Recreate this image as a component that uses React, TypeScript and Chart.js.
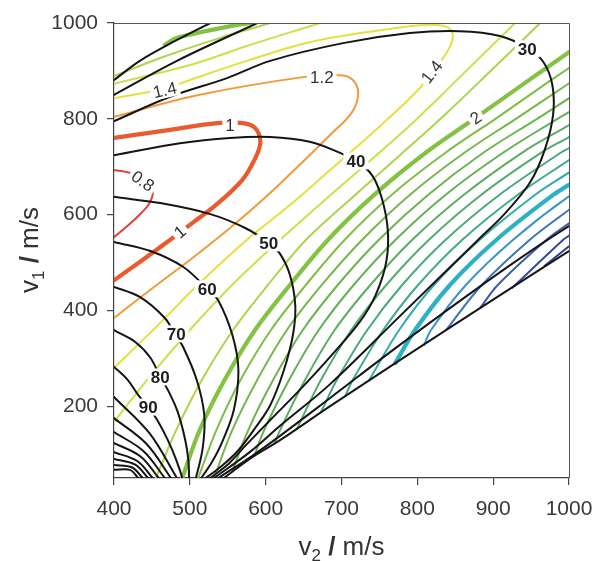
import { useEffect, useRef } from "react";
import { Chart, registerables } from "chart.js";

Chart.register(...registerables);

type Pt = [number, number]; // [v2, v1] in m/s

const v2Ticks = [400, 500, 600, 700, 800, 900, 1000];
const v1Ticks = [200, 400, 600, 800, 1000];

// ---- black contours (angle, degrees) ----
const angle10Top: Pt[] = [[382, 862], [400, 881], [434, 921], [480, 962], [527, 1000], [553, 1021]];
const angle10Bottom: Pt[] = [[1028, 553], [1000, 524], [922, 445], [777, 296], [685, 200], [619, 129], [579, 90], [545, 50], [533, 37]];
const angle20Top: Pt[] = [[382, 835], [400, 850], [483, 921], [589, 1000], [612, 1017]];
const angle20Bottom: Pt[] = [[1028, 597], [1000, 576], [913, 484], [777, 328], [685, 217], [619, 138], [582, 96], [538, 50], [527, 37]];
const angle30: Pt[] = [[382, 783], [400, 795], [474, 846], [549, 885], [606, 921], [702, 958], [790, 979], [856, 983], [909, 973], [945, 948], [966, 919], [978, 871], [979, 808], [968, 735], [949, 668], [916, 603], [880, 547], [777, 388], [685, 246], [619, 159], [579, 104], [532, 50], [520, 37]];
const angle40: Pt[] = [[382, 720], [400, 724], [487, 749], [553, 760], [606, 762], [658, 752], [695, 731], [719, 712], [740, 683], [753, 635], [761, 568], [759, 501], [745, 432], [724, 376], [685, 303], [645, 234], [606, 171], [573, 117], [552, 81], [527, 50], [513, 33]];
const angle50: Pt[] = [[382, 641], [400, 637], [461, 624], [527, 601], [573, 572], [604, 541], [619, 518], [632, 474], [639, 411], [636, 349], [624, 275], [606, 202], [586, 154], [564, 108], [542, 75], [521, 50], [508, 37]];
const angle60: Pt[] = [[382, 551], [400, 543], [448, 524], [491, 491], [523, 445], [537, 422], [556, 349], [564, 276], [558, 192], [542, 123], [529, 83], [515, 50], [505, 29]];
const angle70: Pt[] = [[382, 459], [400, 449], [434, 428], [467, 384], [480, 351], [491, 324], [509, 255], [519, 182], [517, 113], [508, 50], [504, 29]];
const angle80: Pt[] = [[382, 380], [400, 359], [428, 334], [448, 301], [461, 261], [471, 234], [484, 188], [494, 129], [498, 88], [499, 50], [499, 29]];
const angle90: Pt[] = [[382, 307], [400, 282], [418, 255], [432, 223], [445, 198], [457, 171], [471, 129], [482, 88], [490, 50], [492, 29]];
const angle100: Pt[] = [[400, 219], [447, 143], [483, 50]];
const angle110: Pt[] = [[400, 175], [443, 121], [475, 50]];
const angle120: Pt[] = [[400, 146], [439, 106], [467, 50]];
const angle130: Pt[] = [[400, 123], [435, 95], [459, 50]];
const angle140: Pt[] = [[400, 104], [431, 85], [451, 50]];
const angle150: Pt[] = [[400, 90], [428, 78], [445, 50]];
const angle160: Pt[] = [[400, 77], [424, 72], [438, 50]];
const angle170: Pt[] = [[400, 67], [421, 67], [432, 50]];

// ---- coloured contours (ratio) ----
const ratio08: Pt[] = [[382, 695], [400, 693], [421, 687], [442, 670], [451, 647], [446, 622], [432, 597], [416, 574], [400, 553], [382, 532]];
const ratio10: Pt[] = [[382, 756], [400, 760], [474, 777], [536, 791], [570, 791], [586, 781], [593, 752], [587, 720], [569, 672], [533, 618], [507, 587], [467, 539], [434, 501], [400, 463], [382, 443]];
const ratio12: Pt[] = [[382, 795], [400, 804], [513, 850], [649, 887], [699, 891], [715, 881], [722, 854], [714, 814], [685, 766], [645, 704], [599, 635], [553, 572], [500, 505], [448, 443], [400, 384], [382, 361]];
const ratio14: Pt[] = [[382, 837], [400, 843], [465, 862], [500, 881], [579, 923], [658, 960], [751, 985], [810, 996], [839, 992], [847, 973], [839, 939], [819, 898], [801, 860], [751, 785], [685, 693], [632, 620], [575, 547], [513, 457], [454, 363], [400, 280], [382, 253]];
const ratio16Top: Pt[] = [[382, 864], [400, 873], [504, 914], [579, 954], [672, 1000], [691, 1010]];
const ratio16: Pt[] = [[382, 129], [400, 167], [447, 261], [500, 359], [557, 455], [619, 547], [698, 658], [784, 777], [856, 887], [929, 1000], [949, 1031]];
const ratio18Top: Pt[] = [[382, 879], [400, 889], [461, 927], [540, 969], [606, 1000], [625, 1010]];
const ratio18: Pt[] = [[447, 25], [455, 50], [482, 150], [516, 255], [557, 359], [603, 453], [653, 547], [718, 641], [777, 724], [836, 808], [898, 902], [962, 1000], [982, 1031]];
const ratio20Top: Pt[] = [[467, 954], [483, 969], [549, 992], [579, 1000], [599, 1006]];
const ratio20: Pt[] = [[484, 25], [490, 50], [513, 150], [546, 255], [586, 359], [632, 453], [682, 547], [743, 641], [811, 729], [877, 802], [942, 875], [1000, 939], [1028, 971]];
const ratio21: Pt[] = [[505, 25], [511, 50], [535, 150], [567, 255], [607, 359], [653, 453], [704, 547], [766, 641], [837, 729], [905, 802], [971, 875], [1000, 906], [1032, 939]];
const ratio22: Pt[] = [[527, 25], [532, 50], [556, 150], [589, 255], [628, 359], [674, 453], [727, 547], [790, 641], [862, 729], [932, 802], [1001, 875], [1063, 939]];
const ratio23: Pt[] = [[556, 63], [577, 150], [610, 255], [649, 359], [695, 453], [749, 547], [814, 641], [887, 729], [960, 802], [1000, 843], [1031, 875]];
const ratio24: Pt[] = [[585, 96], [598, 150], [631, 255], [670, 359], [716, 453], [771, 547], [837, 641], [913, 729], [987, 802], [1000, 814], [1060, 875]];
const ratio25: Pt[] = [[612, 123], [619, 150], [652, 255], [691, 359], [738, 453], [793, 547], [861, 641], [938, 729], [1000, 787], [1015, 802]];
const ratio26: Pt[] = [[641, 152], [673, 255], [713, 359], [759, 453], [815, 547], [884, 641], [963, 729], [1000, 762], [1042, 802]];
const ratio27: Pt[] = [[673, 188], [694, 255], [734, 359], [780, 453], [837, 547], [908, 641], [989, 729], [1000, 739], [1069, 802]];
const ratio28: Pt[] = [[705, 221], [715, 255], [755, 359], [801, 453], [859, 547], [932, 641], [1000, 714], [1014, 729]];
const ratio29: Pt[] = [[736, 253], [776, 359], [822, 453], [882, 547], [955, 641], [1000, 688], [1039, 729]];
const ratio30: Pt[] = [[771, 290], [797, 359], [843, 453], [904, 547], [979, 641], [1000, 662], [1065, 729]];
const ratio31: Pt[] = [[809, 328], [818, 359], [864, 453], [926, 547], [1000, 638], [1090, 729]];
const ratio32: Pt[] = [[839, 361], [885, 453], [948, 547], [1000, 610], [1026, 641]];
const ratio33: Pt[] = [[883, 405], [906, 453], [970, 547], [1000, 582], [1050, 641]];
const ratio34: Pt[] = [[925, 447], [992, 547], [1000, 556], [1073, 641]];
const ratio35: Pt[] = [[968, 493], [1000, 534], [1028, 570]];

// inline contour labels: [text, v2, v1]
const angleLabels: [string, number, number][] = [
  ["30", 945, 946], ["40", 719, 712], ["50", 604, 541], ["60", 523, 445],
  ["70", 482, 351], ["80", 461, 261], ["90", 445, 198],
];
const ratioLabels: [string, number, number][] = [
  ["1.4", 467, 860], ["1.2", 674, 887], ["1", 553, 787], ["0.8", 438, 670],
  ["1", 487, 564], ["1.4", 819, 898], ["2", 877, 802],
];
const ratioLabelTilt = [-13, 0, 0, 35, -40, -52, -36];

const angleCurves: Pt[][] = [
  angle10Top, angle10Bottom, angle20Top, angle20Bottom, angle30, angle40, angle50,
  angle60, angle70, angle80, angle90, angle100, angle110, angle120, angle130,
  angle140, angle150, angle160, angle170,
];

const ratioCurves: { level: number; pts: Pt[] }[] = [
  { level: 0.8, pts: ratio08 }, { level: 1.0, pts: ratio10 }, { level: 1.2, pts: ratio12 },
  { level: 1.4, pts: ratio14 }, { level: 1.6, pts: ratio16Top }, { level: 1.6, pts: ratio16 },
  { level: 1.8, pts: ratio18Top }, { level: 1.8, pts: ratio18 }, { level: 2.0, pts: ratio20Top },
  { level: 2.0, pts: ratio20 }, { level: 2.1, pts: ratio21 }, { level: 2.2, pts: ratio22 },
  { level: 2.3, pts: ratio23 }, { level: 2.4, pts: ratio24 }, { level: 2.5, pts: ratio25 },
  { level: 2.6, pts: ratio26 }, { level: 2.7, pts: ratio27 }, { level: 2.8, pts: ratio28 },
  { level: 2.9, pts: ratio29 }, { level: 3.0, pts: ratio30 }, { level: 3.1, pts: ratio31 },
  { level: 3.2, pts: ratio32 }, { level: 3.3, pts: ratio33 }, { level: 3.4, pts: ratio34 },
  { level: 3.5, pts: ratio35 },
];

const ratioColors: Record<string, string> = {
  "0.8": "#e2403a", "1.0": "#e95a2c", "1.2": "#f2993a", "1.4": "#e5e03e",
  "1.6": "#cde04a", "1.8": "#add44c", "2.0": "#84c243", "2.1": "#7dbe46",
  "2.2": "#74b84a", "2.3": "#6cb44f", "2.4": "#64b056", "2.5": "#5bad60",
  "2.6": "#52ab6d", "2.7": "#47aa7c", "2.8": "#3eab8f", "2.9": "#35aca5",
  "3.0": "#2bb0c6", "3.1": "#3a93cc", "3.2": "#3d74ba", "3.3": "#3a5ba8",
  "3.4": "#334998", "3.5": "#2b3c8a",
};
const thickLevels = [1, 2, 3];

const FONT = '"Liberation Sans", Arial, Helvetica, sans-serif';

const labelPlugin = {
  id: "contourLabels",
  afterDatasetsDraw(chart: any) {
    const { ctx } = chart;
    const xs = chart.scales.x;
    const ys = chart.scales.y;
    const put = (text: string, v2: number, v1: number, tilt: number, font: string, color: string, h: number) => {
      const px = xs.getPixelForValue(v2);
      const py = ys.getPixelForValue(v1);
      ctx.save();
      ctx.translate(px, py);
      ctx.rotate((tilt * Math.PI) / 180);
      ctx.font = font;
      const w = ctx.measureText(text).width;
      ctx.fillStyle = "#ffffff";
      ctx.fillRect(-w / 2 - 3, -h / 2, w + 6, h);
      ctx.fillStyle = color;
      ctx.textAlign = "center";
      ctx.textBaseline = "middle";
      ctx.fillText(text, 0, 1);
      ctx.restore();
    };
    ratioLabels.forEach(([t, a, b], i) => put(t, a, b, ratioLabelTilt[i], `17px ${FONT}`, "#333333", 16));
    angleLabels.forEach(([t, a, b]) => put(t, a, b, 0, `bold 17px ${FONT}`, "#1e1e1e", 17));
  },
};

const framePlugin = {
  id: "frameAndTitles",
  afterDraw(chart: any) {
    const { ctx, chartArea: ca } = chart;
    ctx.save();
    ctx.strokeStyle = "#555555";
    ctx.lineWidth = 1;
    ctx.beginPath();
    ctx.moveTo(ca.left, ca.top + 0.5);
    ctx.lineTo(ca.right + 0.5, ca.top + 0.5);
    ctx.lineTo(ca.right + 0.5, ca.bottom);
    ctx.stroke();

    const title = (cx: number, cy: number, sub: string, vertical: boolean) => {
      const parts: [string, string, number][] = [
        ["v", `26px ${FONT}`, 0],
        [sub, `17px ${FONT}`, 6],
        [" ", `26px ${FONT}`, 0],
        ["/", `bold 26px ${FONT}`, 0],
        [" m/s", `26px ${FONT}`, 0],
      ];
      ctx.save();
      ctx.translate(cx, cy);
      if (vertical) ctx.rotate(-Math.PI / 2);
      let total = 0;
      const widths = parts.map(([t, f]) => {
        ctx.font = f;
        const w = ctx.measureText(t).width;
        total += w;
        return w;
      });
      let xpos = -total / 2;
      ctx.fillStyle = "#333333";
      ctx.textBaseline = "alphabetic";
      ctx.textAlign = "left";
      parts.forEach(([t, f, dy], i) => {
        ctx.font = f;
        ctx.fillText(t, xpos, dy);
        xpos += widths[i];
      });
      ctx.restore();
    };
    title((ca.left + ca.right) / 2, 555, "2", false);
    title(38, 250, "1", true);
    ctx.restore();
  },
};

export default function App() {
  const ref = useRef<HTMLCanvasElement | null>(null);

  useEffect(() => {
    if (!ref.current) return;
    const datasets: any[] = [];
    ratioCurves.forEach(({ level, pts }) => {
      datasets.push({
        data: pts.map(([a, b]) => ({ x: a, y: b })),
        borderColor: ratioColors[level.toFixed(1)],
        borderWidth: thickLevels.includes(level) ? 4.2 : 2,
        showLine: true,
        pointRadius: 0,
        tension: 0.35,
        clip: 0,
        order: 2,
      });
    });
    angleCurves.forEach((pts) => {
      datasets.push({
        data: pts.map(([a, b]) => ({ x: a, y: b })),
        borderColor: "#151515",
        borderWidth: 2,
        showLine: true,
        pointRadius: 0,
        tension: 0.35,
        clip: 0,
        order: 1,
      });
    });

    const tickFont = { family: FONT, size: 21 };
    const chart = new Chart(ref.current, {
      type: "scatter",
      data: { datasets },
      options: {
        responsive: false,
        devicePixelRatio: 1,
        animation: false,
        events: [],
        layout: { padding: { top: 23, right: 26, left: 0, bottom: 0 } },
        elements: { line: { capBezierPoints: false, borderCapStyle: "round", borderJoinStyle: "round" } },
        plugins: { legend: { display: false }, tooltip: { enabled: false } },
        scales: {
          x: {
            type: "linear",
            min: 400,
            max: 1000,
            afterBuildTicks: (s: any) => { s.ticks = v2Ticks.map((v) => ({ value: v })); },
            afterFit: (s: any) => { s.height = 83; s.paddingLeft = 0; s.paddingRight = 0; },
            grid: { display: true, drawOnChartArea: false, drawTicks: true, tickLength: 7, color: "#444444", lineWidth: 1.2 },
            border: { display: true, color: "#444444", width: 1.2 },
            ticks: { font: tickFont, color: "#3a3a3a", padding: 12, maxRotation: 0, callback: (v: any) => String(v) },
          },
          y: {
            type: "linear",
            min: 50,
            max: 1000,
            afterBuildTicks: (s: any) => { s.ticks = v1Ticks.map((v) => ({ value: v })); },
            afterFit: (s: any) => { s.width = 114; s.paddingTop = 0; s.paddingBottom = 0; },
            grid: { display: true, drawOnChartArea: false, drawTicks: true, tickLength: 7, color: "#444444", lineWidth: 1.2 },
            border: { display: true, color: "#444444", width: 1.2 },
            ticks: { font: tickFont, color: "#3a3a3a", padding: 9, callback: (v: any) => String(v) },
          },
        },
      } as any,
      plugins: [labelPlugin, framePlugin],
    });
    return () => chart.destroy();
  }, []);

  return (
    <div style={{ position: "absolute", left: 0, top: 0, width: 595, height: 561, background: "#ffffff" }}>
      <canvas ref={ref} width={595} height={561} style={{ display: "block" }} />
    </div>
  );
}
